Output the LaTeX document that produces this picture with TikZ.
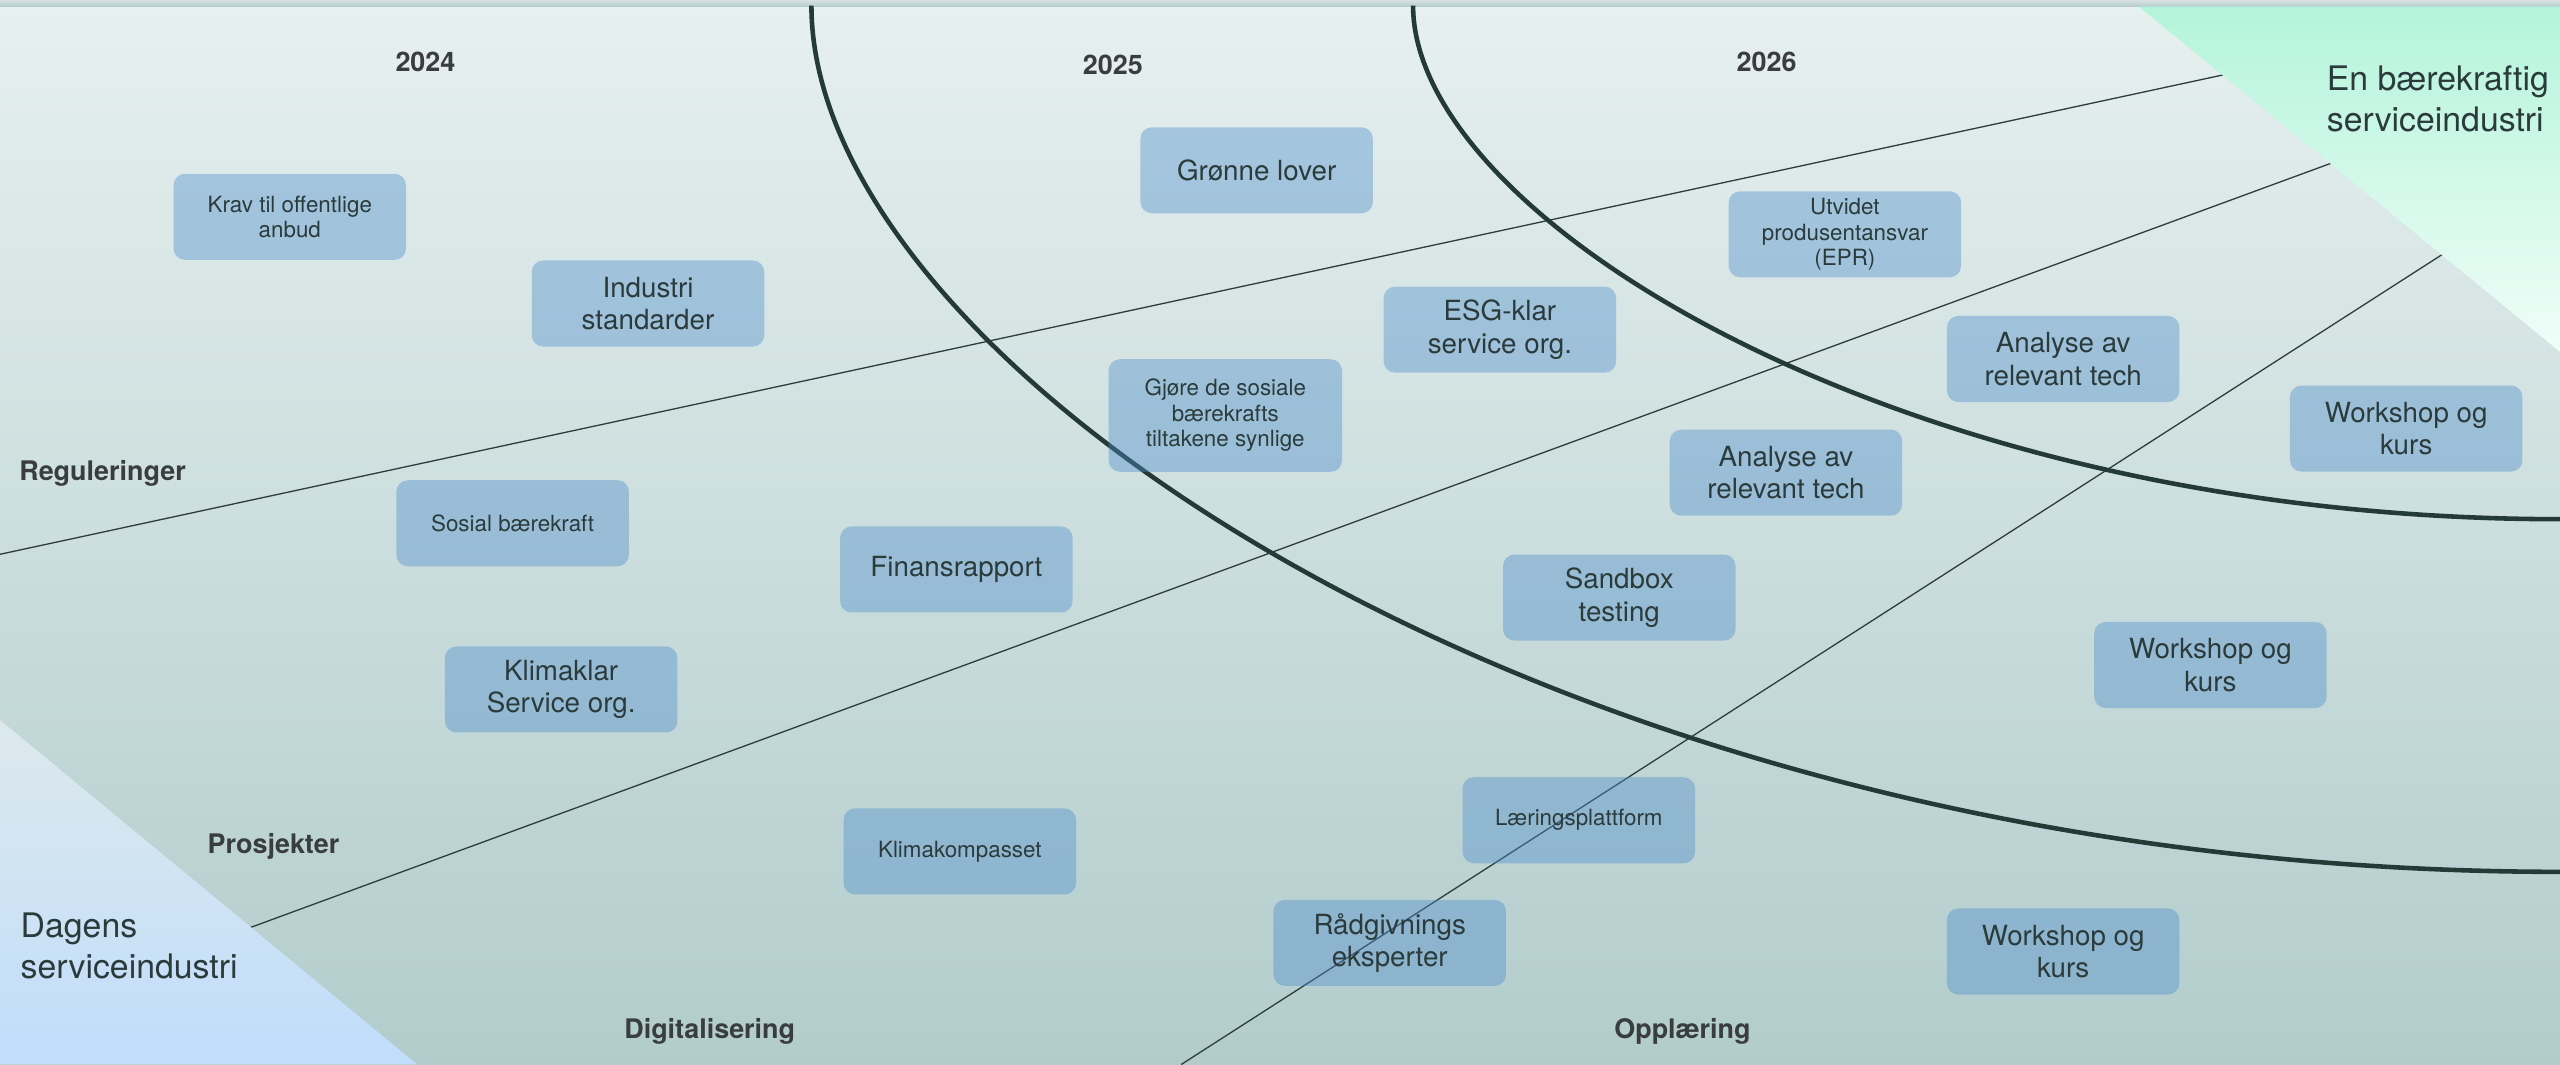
\documentclass[tikz,border=0pt]{standalone}
\usepackage{fontspec}
\setmainfont{TeX Gyre Heros}
\definecolor{bgtop}{HTML}{E6F0EF}
\definecolor{bgbot}{HTML}{B2CCCC}
\definecolor{bandtop}{HTML}{D8E1E1}
\definecolor{bandbot}{HTML}{B6CCCD}
\definecolor{mintTop}{HTML}{B4F4DB}
\definecolor{mintBot}{HTML}{F0FDF8}
\definecolor{skyTop}{HTML}{DDE9EC}
\definecolor{skyBot}{HTML}{C0DDFB}
\definecolor{boxfill}{RGB}{77,140,204}
\definecolor{ink}{HTML}{2B3B3B}
\definecolor{labelink}{HTML}{3A3D3D}
\definecolor{curvecol}{HTML}{243A37}
\definecolor{rulecol}{HTML}{2E3C3C}
\begin{document}
\begin{tikzpicture}[x=1pt,y=-1pt,
  card/.style={rounded corners=7pt, fill=boxfill, fill opacity=0.4, text opacity=1,
    text=ink, minimum width=142.4pt, minimum height=52.7pt, inner sep=0pt, align=center},
  small/.style={font=\fontsize{13.7}{15.6}\selectfont},
  big/.style={font=\fontsize{17}{19.8}\selectfont},
  hdr/.style={font=\fontsize{16.5}{18}\selectfont\bfseries, text=labelink, inner sep=0pt, anchor=base},
  corner/.style={font=\fontsize{20.7}{25.2}\selectfont, text=ink, inner sep=0pt, align=left, anchor=west},
  divider/.style={draw=rulecol, line width=0.8pt},
  horizon/.style={draw=curvecol, line width=2.8pt}]

\useasboundingbox (0,0) rectangle (1568,652);

% background
\shade[top color=bgtop, bottom color=bgbot] (0,0) rectangle (1568,652);
\shade[top color=bandtop, bottom color=bandbot] (0,0) rectangle (1568,4);

% thin dividers between the themes
\draw[divider] (0,339.5) -- (1375,43);
\draw[divider] (140,573) -- (1440,95.5);
\draw[divider] (723.5,652) -- (1505,150);

% year horizons
\draw[horizon] (497,3.5) .. controls (497,223) and (950,534) .. (1568,534);
\draw[horizon] (865.5,3.5) .. controls (865.5,133) and (1163,318) .. (1568,318);

% start and goal corners
\shade[top color=skyTop, bottom color=skyBot] (0,441) -- (255.5,652) -- (0,652) -- cycle;
\shade[top color=mintTop, bottom color=mintBot] (1310,4) -- (1568,4) -- (1568,215.5) -- cycle;

% headings
\node[hdr] (y2024) at (260.6,43.6) {2024};
\node[hdr] (y2025) at (681.6,45.5) {2025};
\node[hdr] (y2026) at (1082,44) {2026};
\node[hdr] (regul) at (62.8,294.3) {Reguleringer};
\node[hdr] (prosj) at (167.5,522.8) {Prosjekter};
\node[hdr] (digit) at (434.7,636.3) {Digitalisering};
\node[hdr] (oppl) at (1030.5,636.3) {Opplæring};

\node[corner] (today) at (12.5,579.6) {Dagens\\serviceindustri};
\node[corner] (goal) at (1425,60.6) {En bærekraftig\\serviceindustri};

% measures
\node[card,small] (krav) at (177.5,132.8) {Krav til offentlige\\anbud};
\node[card,big] (industri) at (396.9,185.9) {Industri\\standarder};
\node[card,big] (gronne) at (769.7,104.3) {Grønne lover};
\node[card,small] (epr) at (1130,143.5) {Utvidet\\produsentansvar\\(EPR)};
\node[card,big] (esg) at (918.7,201.9) {ESG-klar\\service org.};
\node[card,small,minimum height=69pt,minimum width=143pt] (synlig) at (750.5,254.5) {Gjøre de sosiale\\bærekrafts\\tiltakene synlige};
\node[card,big] (tech1) at (1263.7,219.9) {Analyse av\\relevant tech};
\node[card,big] (kurs1) at (1473.8,262.5) {Workshop og\\kurs};
\node[card,big] (tech2) at (1093.9,289.5) {Analyse av\\relevant tech};
\node[card,small] (sosial) at (314,320.5) {Sosial bærekraft};
\node[card,big] (finans) at (585.8,348.8) {Finansrapport};
\node[card,big] (sandbox) at (991.8,366) {Sandbox\\testing};
\node[card,big] (klimaklar) at (343.7,422.3) {Klimaklar\\Service org.};
\node[card,big] (kurs2) at (1353.9,407.3) {Workshop og\\kurs};
\node[card,small] (laering) at (967,502.4) {Læringsplattform};
\node[card,small] (kompass) at (587.9,521.5) {Klimakompasset};
\node[card,big] (raad) at (851.2,577.5) {Rådgivnings\\eksperter};
\node[card,big] (kurs3) at (1263.7,582.8) {Workshop og\\kurs};

\end{tikzpicture}
\end{document}
